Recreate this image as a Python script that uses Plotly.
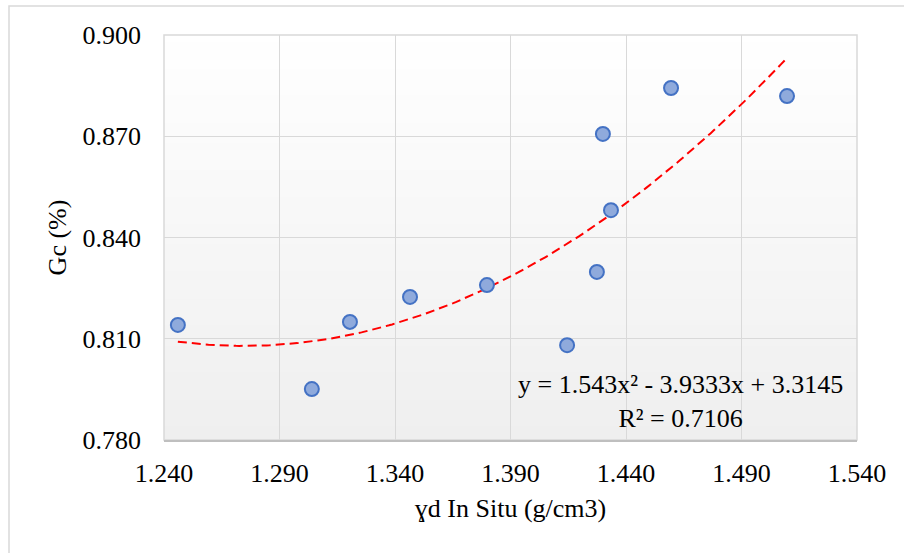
import numpy as np
import plotly.graph_objects as go

# Data
yd_in_situ = [1.246, 1.304, 1.3205, 1.3465, 1.3798, 1.4145, 1.4274, 1.4300, 1.4335, 1.4595, 1.5097]
gc_values = [0.8141, 0.7951, 0.8150, 0.8224, 0.8259, 0.8081, 0.8298, 0.8707, 0.8481, 0.8843, 0.8819]
trend_coeffs = [1.543, -3.9333, 3.3145]  # displayed polynomial trendline
x_ticks = [1.240, 1.290, 1.340, 1.390, 1.440, 1.490, 1.540]
y_ticks = [0.780, 0.810, 0.840, 0.870, 0.900]
eq_text = "y = 1.543x² - 3.9333x + 3.3145<br>R² = 0.7106"

FONT = "Liberation Serif, Times New Roman, serif"
FS = 26

xs = np.array(yd_in_situ)
tx = np.linspace(xs.min(), xs.max(), 200)
ty = np.polyval(trend_coeffs, tx)

fig = go.Figure()
fig.add_trace(go.Scatter(
    x=tx, y=ty, mode="lines",
    line=dict(color="#FF0000", width=2, dash="9px,5px"),
    hoverinfo="skip", showlegend=False,
))
fig.add_trace(go.Scatter(
    x=yd_in_situ, y=gc_values, mode="markers",
    marker=dict(size=14, color="#8FAADC", line=dict(color="#4472C4", width=2)),
    showlegend=False,
))

shapes = []
# vertical gradient background of the plot area
n = 60
for i in range(n):
    t = i / n
    v = int(round(0xEF + (0xFF - 0xEF) * t))
    shapes.append(dict(
        type="rect", xref="x domain", yref="y domain",
        x0=0, x1=1, y0=t, y1=t + 1.0 / n + 0.002,
        fillcolor=f"rgb({v},{v},{v})", line=dict(width=0), layer="below",
    ))
# plot area border
shapes.append(dict(type="rect", xref="paper", yref="paper", x0=0, x1=1, y0=0, y1=1,
                   line=dict(color="#D9D9D9", width=1.5), layer="below"))
# outer chart border (left/top visible)
shapes.append(dict(type="rect", xref="paper", yref="paper",
                   x0=(9 - 164) / 693, x1=1.2, y0=-0.5, y1=1 + (35 - 6) / 405,
                   line=dict(color="#D9D9D9", width=1.5), fillcolor="rgba(0,0,0,0)", layer="below"))

fig.update_layout(
    width=904, height=553,
    margin=dict(l=164, r=47, t=35, b=113),
    paper_bgcolor="white", plot_bgcolor="rgba(0,0,0,0)",
    font=dict(family=FONT, size=FS, color="black"),
    shapes=shapes,
    annotations=[dict(
        x=0.745, y=0.094, xref="paper", yref="paper",
        xanchor="center", yanchor="middle",
        text=eq_text, showarrow=False, align="center",
        font=dict(family=FONT, size=FS, color="black"),
    )],
)
fig.update_xaxes(
    range=[1.240, 1.540], tickvals=x_ticks, ticktext=[f"{v:.3f}" for v in x_ticks],
    showgrid=True, gridcolor="#D9D9D9", gridwidth=1,
    showline=True, linecolor="#BFBFBF", linewidth=2,
    zeroline=False, ticks="", ticklen=0, ticklabelstandoff=9,
    title=dict(text="ɣd In Situ (g/cm3)", font=dict(family=FONT, size=FS), standoff=12),
    tickfont=dict(family=FONT, size=FS),
)
fig.update_yaxes(
    range=[0.780, 0.900], tickvals=y_ticks, ticktext=[f"{v:.3f}" for v in y_ticks],
    showgrid=True, gridcolor="#D9D9D9", gridwidth=1,
    showline=False, zeroline=False, ticks="", ticklen=0, ticklabelstandoff=22,
    title=dict(text="Gc (%)", font=dict(family=FONT, size=FS), standoff=8),
    tickfont=dict(family=FONT, size=FS),
)
fig.write_html("out.html")
